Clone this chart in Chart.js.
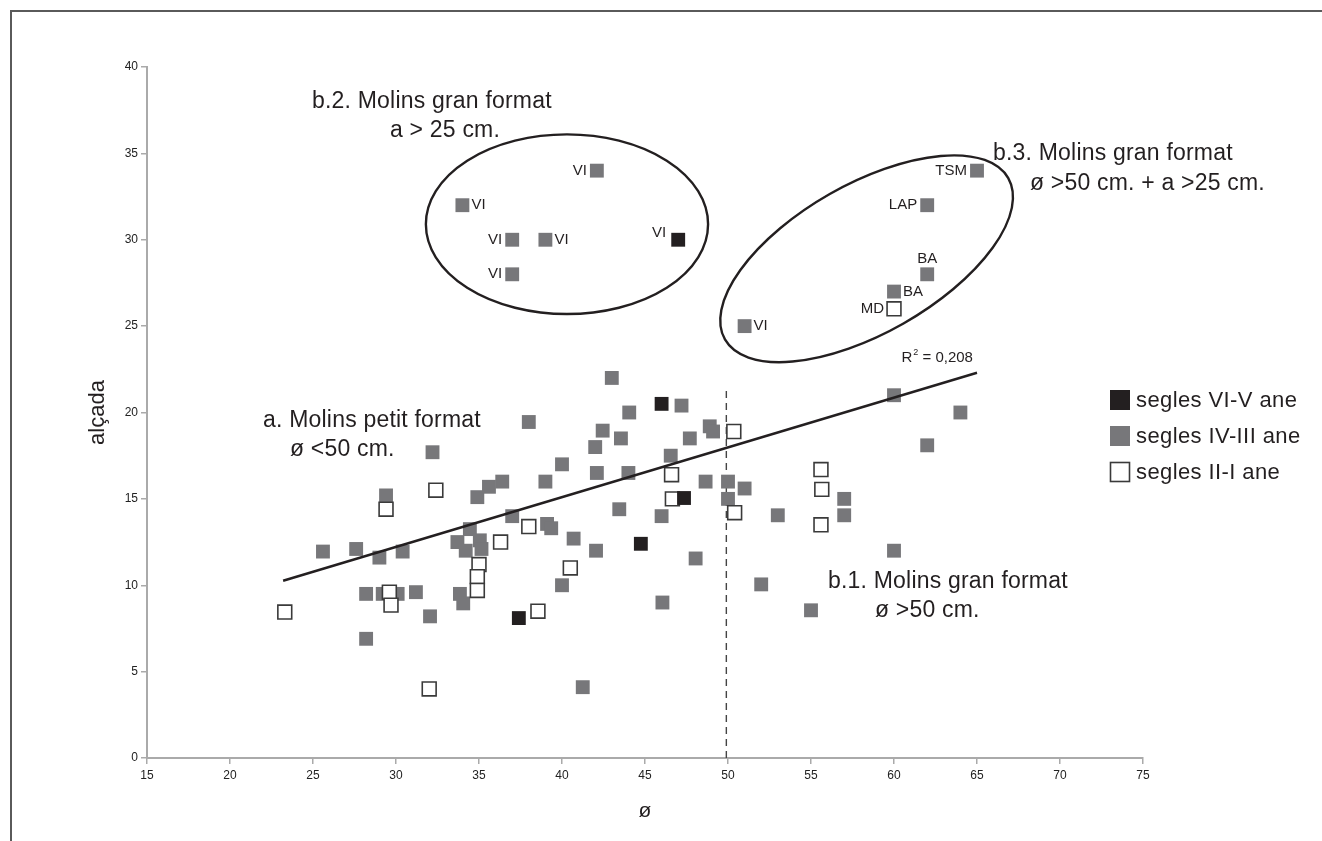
<!DOCTYPE html>
<html>
<head>
<meta charset="utf-8">
<script src="https://cdn.jsdelivr.net/npm/chart.js@4.4.1/dist/chart.umd.min.js"></script>
<style>
  html, body { margin: 0; padding: 0; background: #fff; }
  #wrap { width: 1322px; height: 841px; }
</style>
</head>
<body>
<div id="wrap"><canvas id="molins" width="1322" height="841"></canvas></div>
<script>
// series names (legend)
const seriesNames = ['segles VI-V ane', 'segles IV-III ane', 'segles II-I ane'];

// segles VI-V ane
const blackX = [46.0, 47.35, 44.75, 37.4];
const blackY = [20.5, 15.05, 12.4, 8.1];

// segles IV-III ane
const grayX = [32.2, 29.4, 34.9, 25.6, 27.6, 29.0, 30.4, 34.45, 33.7, 34.2, 35.05, 35.15,
  35.6, 36.4, 38.0, 40.0, 39.0, 37.0, 39.1, 39.35, 40.7, 42.05, 43.0, 44.05, 42.45, 42.0,
  43.55, 42.1, 44.0, 43.45, 46.0, 47.2, 47.7, 48.9, 49.1, 46.55, 48.65, 50.0, 51.0, 50.0,
  48.05, 28.2, 28.2, 29.2, 30.1, 31.2, 32.05, 33.85, 34.05, 40.0, 41.25, 46.05, 52.0, 55.0,
  53.0, 57.0, 57.0, 60.0, 60.0, 64.0, 62.0];
const grayY = [17.7, 15.2, 15.1, 11.95, 12.1, 11.6, 11.95, 13.25, 12.5, 12.0, 12.6, 12.1,
  15.7, 16.0, 19.45, 17.0, 16.0, 14.0, 13.55, 13.3, 12.7, 12.0, 22.0, 20.0, 18.95, 18.0,
  18.5, 16.5, 16.5, 14.4, 14.0, 20.4, 18.5, 19.2, 18.9, 17.5, 16.0, 16.0, 15.6, 15.0,
  11.55, 9.5, 6.9, 9.5, 9.5, 9.6, 8.2, 9.5, 8.95, 10.0, 4.1, 9.0, 10.05, 8.55,
  14.05, 15.0, 14.05, 12.0, 21.0, 20.0, 18.1];

// segles II-I ane
const whiteX = [32.4, 29.4, 50.35, 46.6, 46.65, 50.4, 38.0, 36.3, 35.0, 40.5, 34.9, 34.9,
  38.55, 23.3, 29.6, 29.7, 32.0, 55.6, 55.65, 55.6];
const whiteY = [15.5, 14.4, 18.9, 16.4, 15.0, 14.2, 13.4, 12.5, 11.2, 11.0, 10.5, 9.7,
  8.5, 8.45, 9.6, 8.85, 4.0, 16.7, 15.55, 13.5];

// labelled points (large-format mills)
const tagX = [42.1, 34, 37, 39, 37, 47, 65, 62, 62, 60, 60, 51];
const tagY = [34, 32, 30, 30, 28, 30, 34, 32, 28, 27, 26, 25];
const tagText = ['VI', 'VI', 'VI', 'VI', 'VI', 'VI', 'TSM', 'LAP', 'BA', 'BA', 'MD', 'VI'];
const tagSeries = [1, 1, 1, 1, 1, 0, 1, 1, 1, 1, 2, 1];

// linear trend (R² = 0,208) and the 50 cm divider
const trendX = [23.2, 65.0];
const trendY = [10.26, 22.3];
const cutX = [49.9, 49.9];
const cutY = [0, 21.5];

// axis ticks
const xTicks = [15, 20, 25, 30, 35, 40, 45, 50, 55, 60, 65, 70, 75];
const yTicks = [0, 5, 10, 15, 20, 25, 30, 35, 40];

// ---- presentation ----
const FONT = "'Liberation Sans', Arial, sans-serif";
const INK = '#231f20';
const fills = ['#231f20', '#77777a', '#ffffff'];
const borders = ['#231f20', '#77777a', '#3a3a3a'];
const tagPlace = ['left', 'right', 'left', 'right', 'left', 'leftup', 'left', 'left', 'above', 'right', 'left', 'right'];

function pts(xs, ys) { return xs.map((v, i) => ({ x: v, y: ys[i] })); }
function withTags(base, s) {
  tagX.forEach((v, i) => { if (tagSeries[i] === s) base.push({ x: v, y: tagY[i] }); });
  return base;
}

const seriesData = [
  withTags(pts(blackX, blackY), 0),
  withTags(pts(grayX, grayY), 1),
  withTags(pts(whiteX, whiteY), 2)
];

const pointOpts = (i) => ({
  label: seriesNames[i],
  data: seriesData[i],
  pointStyle: 'rect',
  pointRadius: 9.8,
  pointHoverRadius: 9.8,
  backgroundColor: fills[i],
  borderColor: borders[i],
  borderWidth: i === 2 ? 1.6 : 0,
  order: [1, 3, 2][i]
});

const textLines = [
  ['a. Molins petit format', 263, 427], ['ø <50 cm.', 290, 456],
  ['b.2. Molins gran format', 312, 108], ['a > 25 cm.', 390, 137],
  ['b.3. Molins gran format', 993, 160], ['ø >50 cm. + a >25 cm.', 1030, 190],
  ['b.1. Molins gran format', 828, 588], ['ø >50 cm.', 875, 617]
];

const overlay = {
  id: 'overlay',
  beforeDraw(chart) {
    const ctx = chart.ctx;
    ctx.save();
    ctx.strokeStyle = '#5a5a5a';
    ctx.lineWidth = 2;
    ctx.beginPath();
    ctx.moveTo(11, 841);
    ctx.lineTo(11, 11);
    ctx.lineTo(1322, 11);
    ctx.stroke();
    ctx.restore();
  },
  afterDatasetsDraw(chart) {
    const { ctx, scales: { x, y } } = chart;
    ctx.save();
    ctx.strokeStyle = INK;
    ctx.lineWidth = 2.4;

    // ellipse around b.2
    const e1x = x.getPixelForValue(40.3), e1y = y.getPixelForValue(30.9);
    ctx.beginPath();
    ctx.ellipse(e1x, e1y, x.getPixelForValue(48.8) - e1x, e1y - y.getPixelForValue(36.1), 0, 0, Math.PI * 2);
    ctx.stroke();

    // tilted ellipse around b.3
    const e2x = x.getPixelForValue(58.35), e2y = y.getPixelForValue(28.9);
    ctx.beginPath();
    ctx.ellipse(e2x, e2y, 163, 74.5, -29.65 * Math.PI / 180, 0, Math.PI * 2);
    ctx.stroke();

    // region captions
    ctx.fillStyle = INK;
    ctx.font = '23px ' + FONT;
    ctx.letterSpacing = '0.2px';
    ctx.textAlign = 'left';
    ctx.textBaseline = 'alphabetic';
    textLines.forEach(([t, px, py]) => ctx.fillText(t, px, py));
    ctx.letterSpacing = '0px';

    // point labels
    ctx.font = '15px ' + FONT;
    ctx.textBaseline = 'middle';
    tagX.forEach((v, i) => {
      const px = x.getPixelForValue(v), py = y.getPixelForValue(tagY[i]);
      const p = tagPlace[i];
      if (p === 'left') { ctx.textAlign = 'right'; ctx.fillText(tagText[i], px - 10, py); }
      else if (p === 'right') { ctx.textAlign = 'left'; ctx.fillText(tagText[i], px + 9, py); }
      else if (p === 'above') { ctx.textAlign = 'center'; ctx.fillText(tagText[i], px, py - 15); }
      else { ctx.textAlign = 'right'; ctx.fillText(tagText[i], px - 12, py - 7); }
    });

    // R² label
    const rx = x.getPixelForValue(60.45), ry = y.getPixelForValue(22.9);
    ctx.textAlign = 'left';
    ctx.textBaseline = 'alphabetic';
    ctx.font = '15px ' + FONT;
    ctx.fillText('R', rx, ry);
    const rw = ctx.measureText('R').width;
    ctx.font = '9px ' + FONT;
    ctx.fillText('2', rx + rw + 1, ry - 7);
    ctx.font = '15px ' + FONT;
    ctx.fillText(' = 0,208', rx + rw + 6, ry);

    // legend
    const tops = [390, 426, 462];
    ctx.font = '22px ' + FONT;
    ctx.letterSpacing = '0.4px';
    ctx.textBaseline = 'middle';
    seriesNames.forEach((name, i) => {
      ctx.fillStyle = fills[i];
      ctx.fillRect(1110, tops[i], 20, 20);
      if (i === 2) {
        ctx.strokeStyle = borders[2];
        ctx.lineWidth = 1.6;
        ctx.strokeRect(1110.5, tops[i] + 0.5, 19, 19);
      }
      ctx.fillStyle = INK;
      ctx.fillText(name, 1136, tops[i] + 11);
    });
    ctx.restore();
  }
};

new Chart(document.getElementById('molins'), {
  type: 'scatter',
  data: {
    datasets: [
      pointOpts(0), pointOpts(1), pointOpts(2),
      {
        label: 'trend',
        data: pts(trendX, trendY),
        showLine: true,
        borderColor: INK,
        borderWidth: 2.4,
        pointRadius: 0,
        order: 0
      },
      {
        label: 'cut',
        data: pts(cutX, cutY),
        showLine: true,
        borderColor: '#444',
        borderWidth: 1.4,
        borderDash: [7, 5],
        pointRadius: 0,
        order: 4
      }
    ]
  },
  options: {
    responsive: false,
    animation: false,
    layout: { padding: { left: 80, top: 67, right: 179, bottom: 17 } },
    plugins: {
      legend: { display: false },
      tooltip: { enabled: false }
    },
    scales: {
      x: {
        type: 'linear',
        min: 15, max: 75,
        afterBuildTicks: (s) => { s.ticks = xTicks.map(v => ({ value: v })); },
        afterFit: (s) => { s.height = 66; },
        border: { color: '#aaaaaa', width: 2 },
        grid: { drawOnChartArea: false, color: '#aaaaaa', lineWidth: 1.5, tickLength: 6 },
        ticks: { color: '#222', padding: 4, font: { family: "'Liberation Sans Narrow', " + FONT, size: 12 } },
        title: { display: true, text: 'ø', color: INK, padding: { top: 0, bottom: 0 }, font: { family: FONT, size: 21 } }
      },
      y: {
        type: 'linear',
        min: 0, max: 40,
        afterBuildTicks: (s) => { s.ticks = yTicks.map(v => ({ value: v })); },
        afterFit: (s) => { s.width = 67; },
        border: { color: '#aaaaaa', width: 2 },
        grid: { drawOnChartArea: false, color: '#aaaaaa', lineWidth: 1.5, tickLength: 6 },
        ticks: { color: '#222', padding: 3, font: { family: "'Liberation Sans Narrow', " + FONT, size: 12 } },
        title: { display: true, text: 'alçada', color: INK, padding: { top: 5, bottom: 0 }, font: { family: FONT, size: 22 } }
      }
    }
  },
  plugins: [overlay]
});
</script>
</body>
</html>
